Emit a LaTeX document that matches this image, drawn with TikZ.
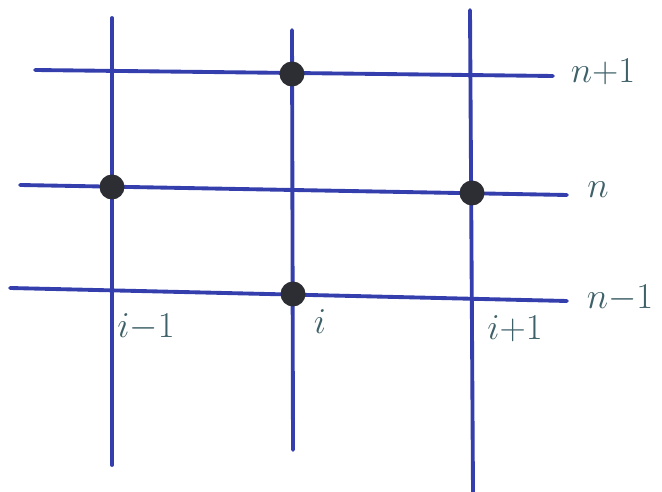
\documentclass[tikz,border=0pt]{standalone}
\definecolor{gridBlue}{RGB}{52,62,172}
\definecolor{gridDot}{RGB}{45,45,52}
\definecolor{gridLabel}{RGB}{62,96,104}
\usepackage{tikz}
\usetikzlibrary{positioning}

\begin{document}
\begin{tikzpicture}[
  x=0.02cm, y=-0.02cm,
  gline/.style={gridBlue, line width=2.2pt, line cap=round},
  gdot/.style={circle, fill=gridDot, inner sep=0pt, minimum size=0.5cm},
  glabel/.style={gridLabel, font=\fontsize{20}{24}\selectfont, inner sep=0pt}
]
  \useasboundingbox (0,0) rectangle (662,492);

  % grid line ends
  \coordinate (row1w) at (35,70);   \coordinate (row1e) at (553,76);
  \coordinate (row2w) at (20,185);  \coordinate (row2e) at (567,195);
  \coordinate (row3w) at (10,288);  \coordinate (row3e) at (567,301);
  \coordinate (col1n) at (112,18);  \coordinate (col1s) at (112,465);
  \coordinate (col2n) at (292,30);  \coordinate (col2s) at (293,450);
  \coordinate (col3n) at (470,10);  \coordinate (col3s) at (473,492);

  \draw[gline] (row1w) -- (row1e);
  \draw[gline] (row2w) -- (row2e);
  \draw[gline] (row3w) -- (row3e);
  \draw[gline] (col1n) -- (col1s);
  \draw[gline] (col2n) -- (col2s);
  \draw[gline] (col3n) -- (col3s);

  % stencil points
  \node[gdot] (top)   at (292,74)  {};
  \node[gdot] (left)  at (112,187) {};
  \node[gdot] (right) at (472,193) {};
  \node[gdot] (bot)   at (293,294) {};

  % labels
  \node[glabel] (np1) at (603,72)  {$n{+}1$};
  \node[glabel] (nn)  at (598,190) {$n$};
  \node[glabel] (nm1) at (620,298) {$n{-}1$};
  \node[glabel] (im1) at (146,327) {$i{-}1$};
  \node[glabel] (ii)  at (320,322) {$i$};
  \node[glabel] (ip1) at (515,329) {$i{+}1$};
\end{tikzpicture}
\end{document}
